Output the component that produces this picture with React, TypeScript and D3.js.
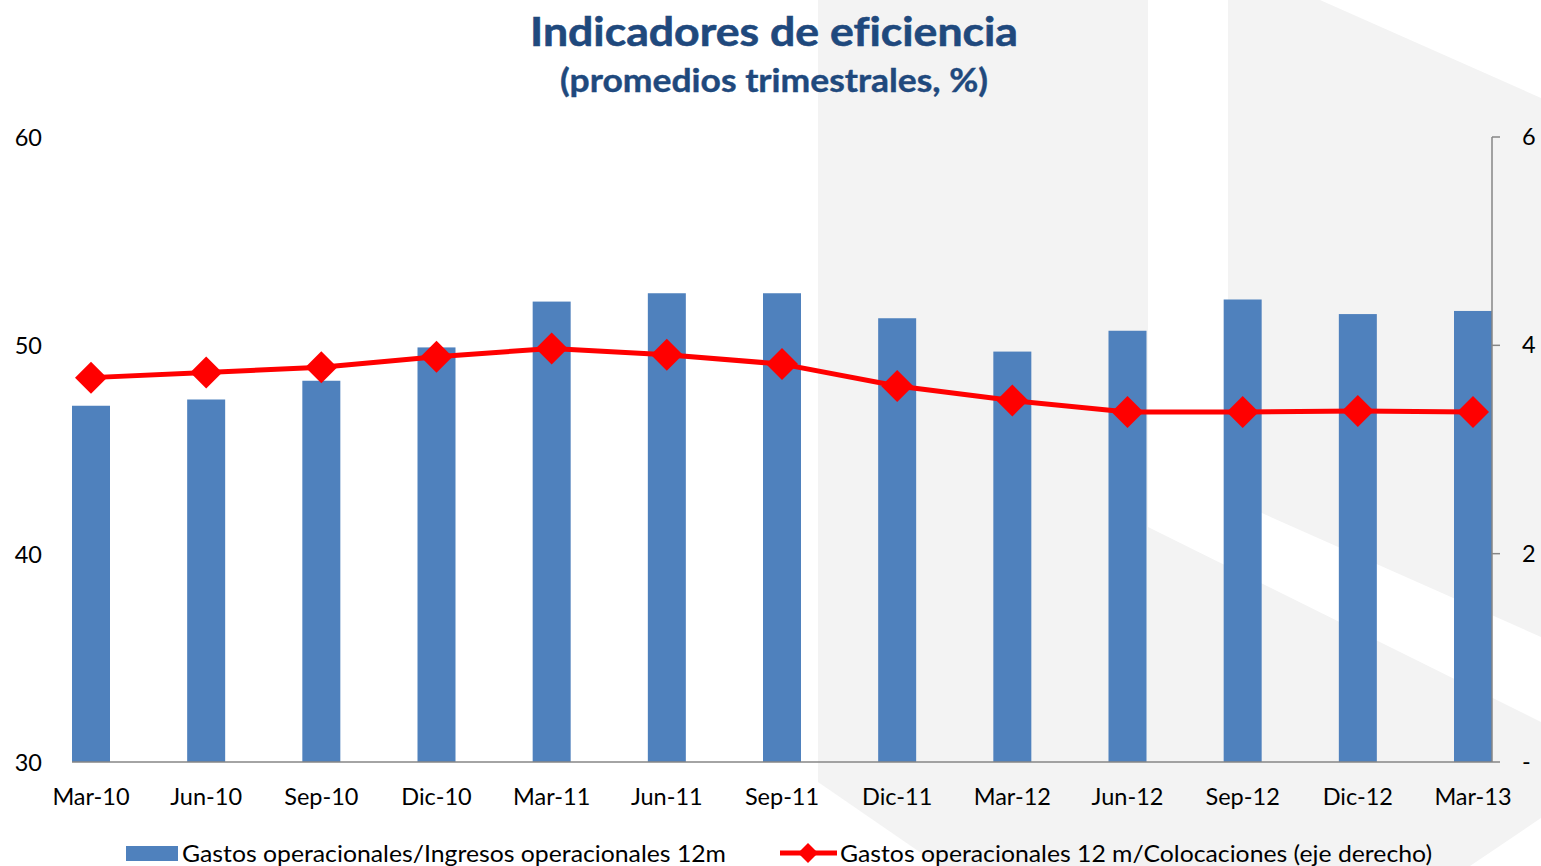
import React from 'react';
import * as d3 from 'd3';

const categories = ['Mar-10', 'Jun-10', 'Sep-10', 'Dic-10', 'Mar-11', 'Jun-11', 'Sep-11', 'Dic-11', 'Mar-12', 'Jun-12', 'Sep-12', 'Dic-12', 'Mar-13'];
const gastosIngresos = [47.1, 47.4, 48.3, 49.9, 52.1, 52.5, 52.5, 51.3, 49.7, 50.7, 52.2, 51.5, 51.65];
const gastosColocaciones = [3.69, 3.74, 3.79, 3.89, 3.97, 3.91, 3.82, 3.61, 3.47, 3.36, 3.36, 3.37, 3.36];
const leftTicks = [30, 40, 50, 60];
const rightTicks = [0, 2, 4, 6];

const W = 1541;
const H = 866;
const FONT = 'Lato, "Open Sans", sans-serif';

// grey watermark shapes behind the chart
const whiteCuts = [
  [[1320, 0], [1541, 0], [1541, 98]],
  [[1148, 0], [1228, 0], [1228, 498], [1541, 637], [1541, 722], [1148, 527]],
  [[818, 782], [818, 866], [940, 866]],
  [[1541, 818], [1541, 866], [1470, 866]],
];

const App = () => {
  const x = d3.scalePoint<string>().domain(categories).range([91, 1473]);
  const yLeft = d3.scaleLinear().domain([30, 60]).range([762, 137]);
  const yRight = d3.scaleLinear().domain([0, 6]).range([762, 137]);
  const barW = 38;

  const line = d3.line<number>()
    .x((_, i) => x(categories[i]) as number)
    .y(d => yRight(d));

  const diamond = (cx: number, cy: number, r: number) =>
    `M${cx},${cy - r}L${cx + r},${cy}L${cx},${cy + r}L${cx - r},${cy}Z`;

  return (
    <div style={{ position: 'fixed', left: 0, top: 0 }}>
      <svg width={W} height={H} style={{ display: 'block', background: '#fff', fontVariantLigatures: 'none' }}>
        <rect x={818} y={0} width={W - 818} height={H} fill="#f3f3f3" />
        {whiteCuts.map((pts, i) => (
          <polygon key={i} points={pts.map(p => p.join(',')).join(' ')} fill="#fff" />
        ))}

        <text x={774} y={46} textAnchor="middle" fontFamily={FONT} fontWeight="bold" fontSize={41}
          fill="#1f497d" stroke="#1f497d" strokeWidth={0.6} textLength={488} lengthAdjust="spacingAndGlyphs">Indicadores de eficiencia</text>
        <text x={774} y={92} textAnchor="middle" fontFamily={FONT} fontWeight="bold" fontSize={32}
          fill="#1f497d" stroke="#1f497d" strokeWidth={0.4} textLength={428} lengthAdjust="spacingAndGlyphs">(promedios trimestrales, %)</text>

        {gastosIngresos.map((v, i) => (
          <rect key={categories[i]} x={(x(categories[i]) as number) - barW / 2} y={yLeft(v)}
            width={barW} height={yLeft(30) - yLeft(v)} fill="#4f81bd" />
        ))}

        <line x1={72} x2={1492} y1={762} y2={762} stroke="#868686" strokeWidth={1.5} />
        <line x1={1492} x2={1492} y1={137} y2={762} stroke="#868686" strokeWidth={1.5} />
        {rightTicks.map(t => (
          <g key={t}>
            <line x1={1492} x2={1500} y1={yRight(t)} y2={yRight(t)} stroke="#868686" strokeWidth={1.5} />
            <text x={1522} y={yRight(t) + 8} fontFamily={FONT} fontSize={23.5} fill="#000">{t === 0 ? '-' : t}</text>
          </g>
        ))}
        {leftTicks.map(t => (
          <text key={t} x={42} y={yLeft(t) + 9} textAnchor="end" fontFamily={FONT} fontSize={23.5} fill="#000">{t}</text>
        ))}
        {categories.map(c => (
          <text key={c} x={x(c)} y={805} textAnchor="middle" fontFamily={FONT} fontSize={23.5} fill="#000">{c}</text>
        ))}

        <path d={line(gastosColocaciones) || ''} fill="none" stroke="#ff0000" strokeWidth={5} strokeLinejoin="round" />
        {gastosColocaciones.map((v, i) => (
          <path key={i} d={diamond(x(categories[i]) as number, yRight(v), 16)} fill="#ff0000" />
        ))}

        <rect x={126} y={846} width={52} height={15} fill="#4f81bd" />
        <text x={182} y={862} fontFamily={FONT} fontSize={23.5} fill="#000" textLength={544} lengthAdjust="spacingAndGlyphs">Gastos operacionales/Ingresos operacionales 12m</text>
        <line x1={780} x2={837} y1={853} y2={853} stroke="#ff0000" strokeWidth={5} />
        <path d={diamond(808, 853, 10)} fill="#ff0000" />
        <text x={840} y={862} fontFamily={FONT} fontSize={23.5} fill="#000" textLength={592} lengthAdjust="spacingAndGlyphs">Gastos operacionales 12 m/Colocaciones (eje derecho)</text>
      </svg>
    </div>
  );
};

export default App;
